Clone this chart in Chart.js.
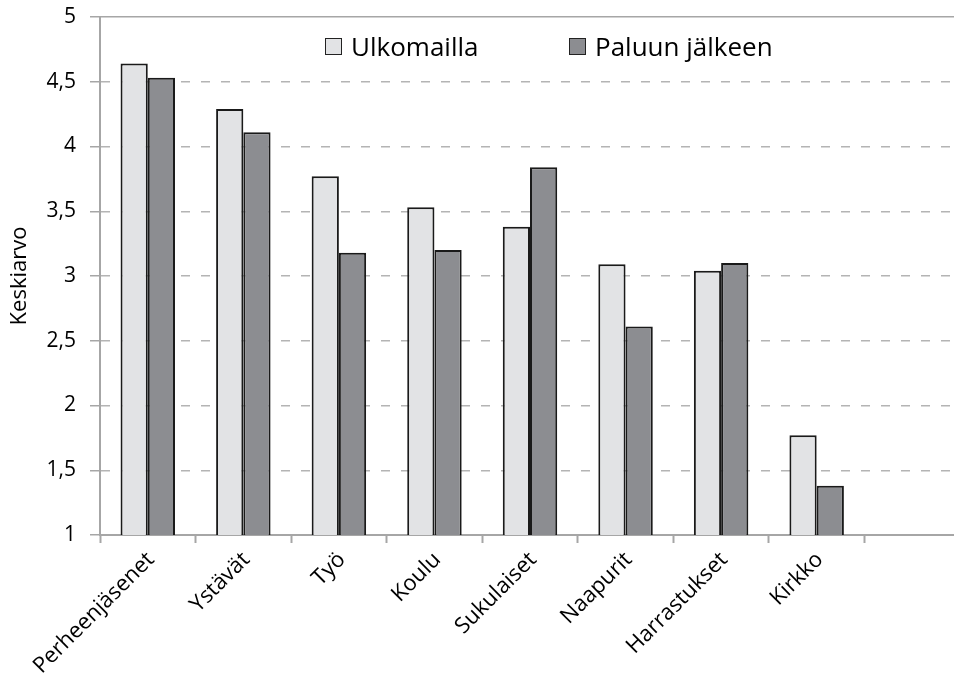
<!DOCTYPE html>
<html>
<head>
<meta charset="utf-8">
<script src="https://cdn.jsdelivr.net/npm/chart.js@4"></script>
<style>
    body { margin: 0; overflow: hidden; background: #fff; }
    #wrap { position: relative; width: 960px; height: 681px; }
    #legend { position: absolute; left: 0; top: 0; font-family: "Open Sans", sans-serif; font-size: 26px; color: #000; }
    .item { position: absolute; top: 28px; height: 36px; line-height: 36px; white-space: nowrap; }
    .box { position: absolute; left: 0; top: 10px; width: 17px; height: 17px; border: 1.5px solid #222; box-sizing: border-box; }
    .label { position: absolute; left: 26px; top: 0; }
</style>
</head>
<body>
<div id="wrap">
    <canvas id="chart" width="960" height="681"></canvas>
    <div id="legend"></div>
</div>
<script>
const categories = ["Perheenjäsenet", "Ystävät", "Työ", "Koulu", "Sukulaiset", "Naapurit", "Harrastukset", "Kirkko", ""];
const ulkomailla = [4.64, 4.29, 3.77, 3.53, 3.38, 3.09, 3.04, 1.77];
const paluunJalkeen = [4.53, 4.11, 3.18, 3.20, 3.84, 2.61, 3.10, 1.38];
const seriesNames = ["Ulkomailla", "Paluun jälkeen"];
const yTicks = [1, 1.5, 2, 2.5, 3, 3.5, 4, 4.5, 5];

const axisGrey = "#a6a6a6";
const font = "'Open Sans', sans-serif";

const chart = new Chart(document.getElementById("chart"), {
    type: "bar",
    data: {
        labels: categories,
        datasets: [
            {
                label: seriesNames[0],
                data: ulkomailla,
                backgroundColor: "#e2e3e5",
                borderColor: "#1a1a1a",
                borderWidth: 2,
            },
            {
                label: seriesNames[1],
                data: paluunJalkeen,
                backgroundColor: "#8c8d91",
                borderColor: "#1a1a1a",
                borderWidth: 2,
            },
        ],
    },
    options: {
        responsive: false,
        animation: false,
        layout: { padding: { top: 17, left: 0, right: 0, bottom: 0 } },
        datasets: { bar: { barPercentage: 1, categoryPercentage: 0.57 } },
        plugins: {
            legend: { display: false },
            tooltip: { enabled: false },
        },
        scales: {
            x: {
                grid: {
                    drawOnChartArea: false,
                    drawTicks: true,
                    tickLength: 8,
                    tickColor: axisGrey,
                    tickWidth: 2,
                },
                border: { color: axisGrey, width: 2 },
                ticks: {
                    autoSkip: false,
                    maxRotation: 45,
                    minRotation: 45,
                    padding: 4,
                    labelOffset: 3,
                    color: "#000",
                    font: { family: font, size: 22 },
                },
                afterFit: (scale) => {
                    scale.height = 146;
                },
            },
            y: {
                min: 1,
                max: 5,
                afterBuildTicks: (scale) => {
                    scale.ticks = yTicks.map((v) => ({ value: v }));
                },
                grid: {
                    color: (ctx) => (ctx.tick && (ctx.tick.value === 5 || ctx.tick.value === 1) ? axisGrey : "#b4b4b4"),
                    lineWidth: 1.5,
                    tickLength: 10,
                    tickColor: axisGrey,
                    tickWidth: 1.5,
                    tickBorderDash: [],
                },
                border: {
                    color: axisGrey,
                    width: 2,
                    dash: (ctx) => (ctx.tick && (ctx.tick.value === 5 || ctx.tick.value === 1) ? [] : [9, 11]),
                },
                ticks: {
                    padding: 14,
                    color: "#000",
                    font: { family: font, size: 21 },
                    callback: (value) => String(value).replace(".", ","),
                },
                title: {
                    display: true,
                    text: "Keskiarvo",
                    color: "#000",
                    font: { family: font, size: 22 },
                    padding: { top: 7, bottom: 0 },
                },
                afterFit: (scale) => {
                    scale.width = 100;
                    scale.paddingTop = 10;
                    scale.paddingBottom = 10;
                },
            },
        },
    },
});

// HTML legend built from the datasets
const legendPositions = [325, 569];
const legendEl = document.getElementById("legend");
chart.data.datasets.forEach((ds, i) => {
    const item = document.createElement("div");
    item.className = "item";
    item.style.left = legendPositions[i] + "px";
    const box = document.createElement("span");
    box.className = "box";
    box.style.background = ds.backgroundColor;
    const label = document.createElement("span");
    label.className = "label";
    label.textContent = ds.label;
    item.appendChild(box);
    item.appendChild(label);
    legendEl.appendChild(item);
});
</script>
</body>
</html>
